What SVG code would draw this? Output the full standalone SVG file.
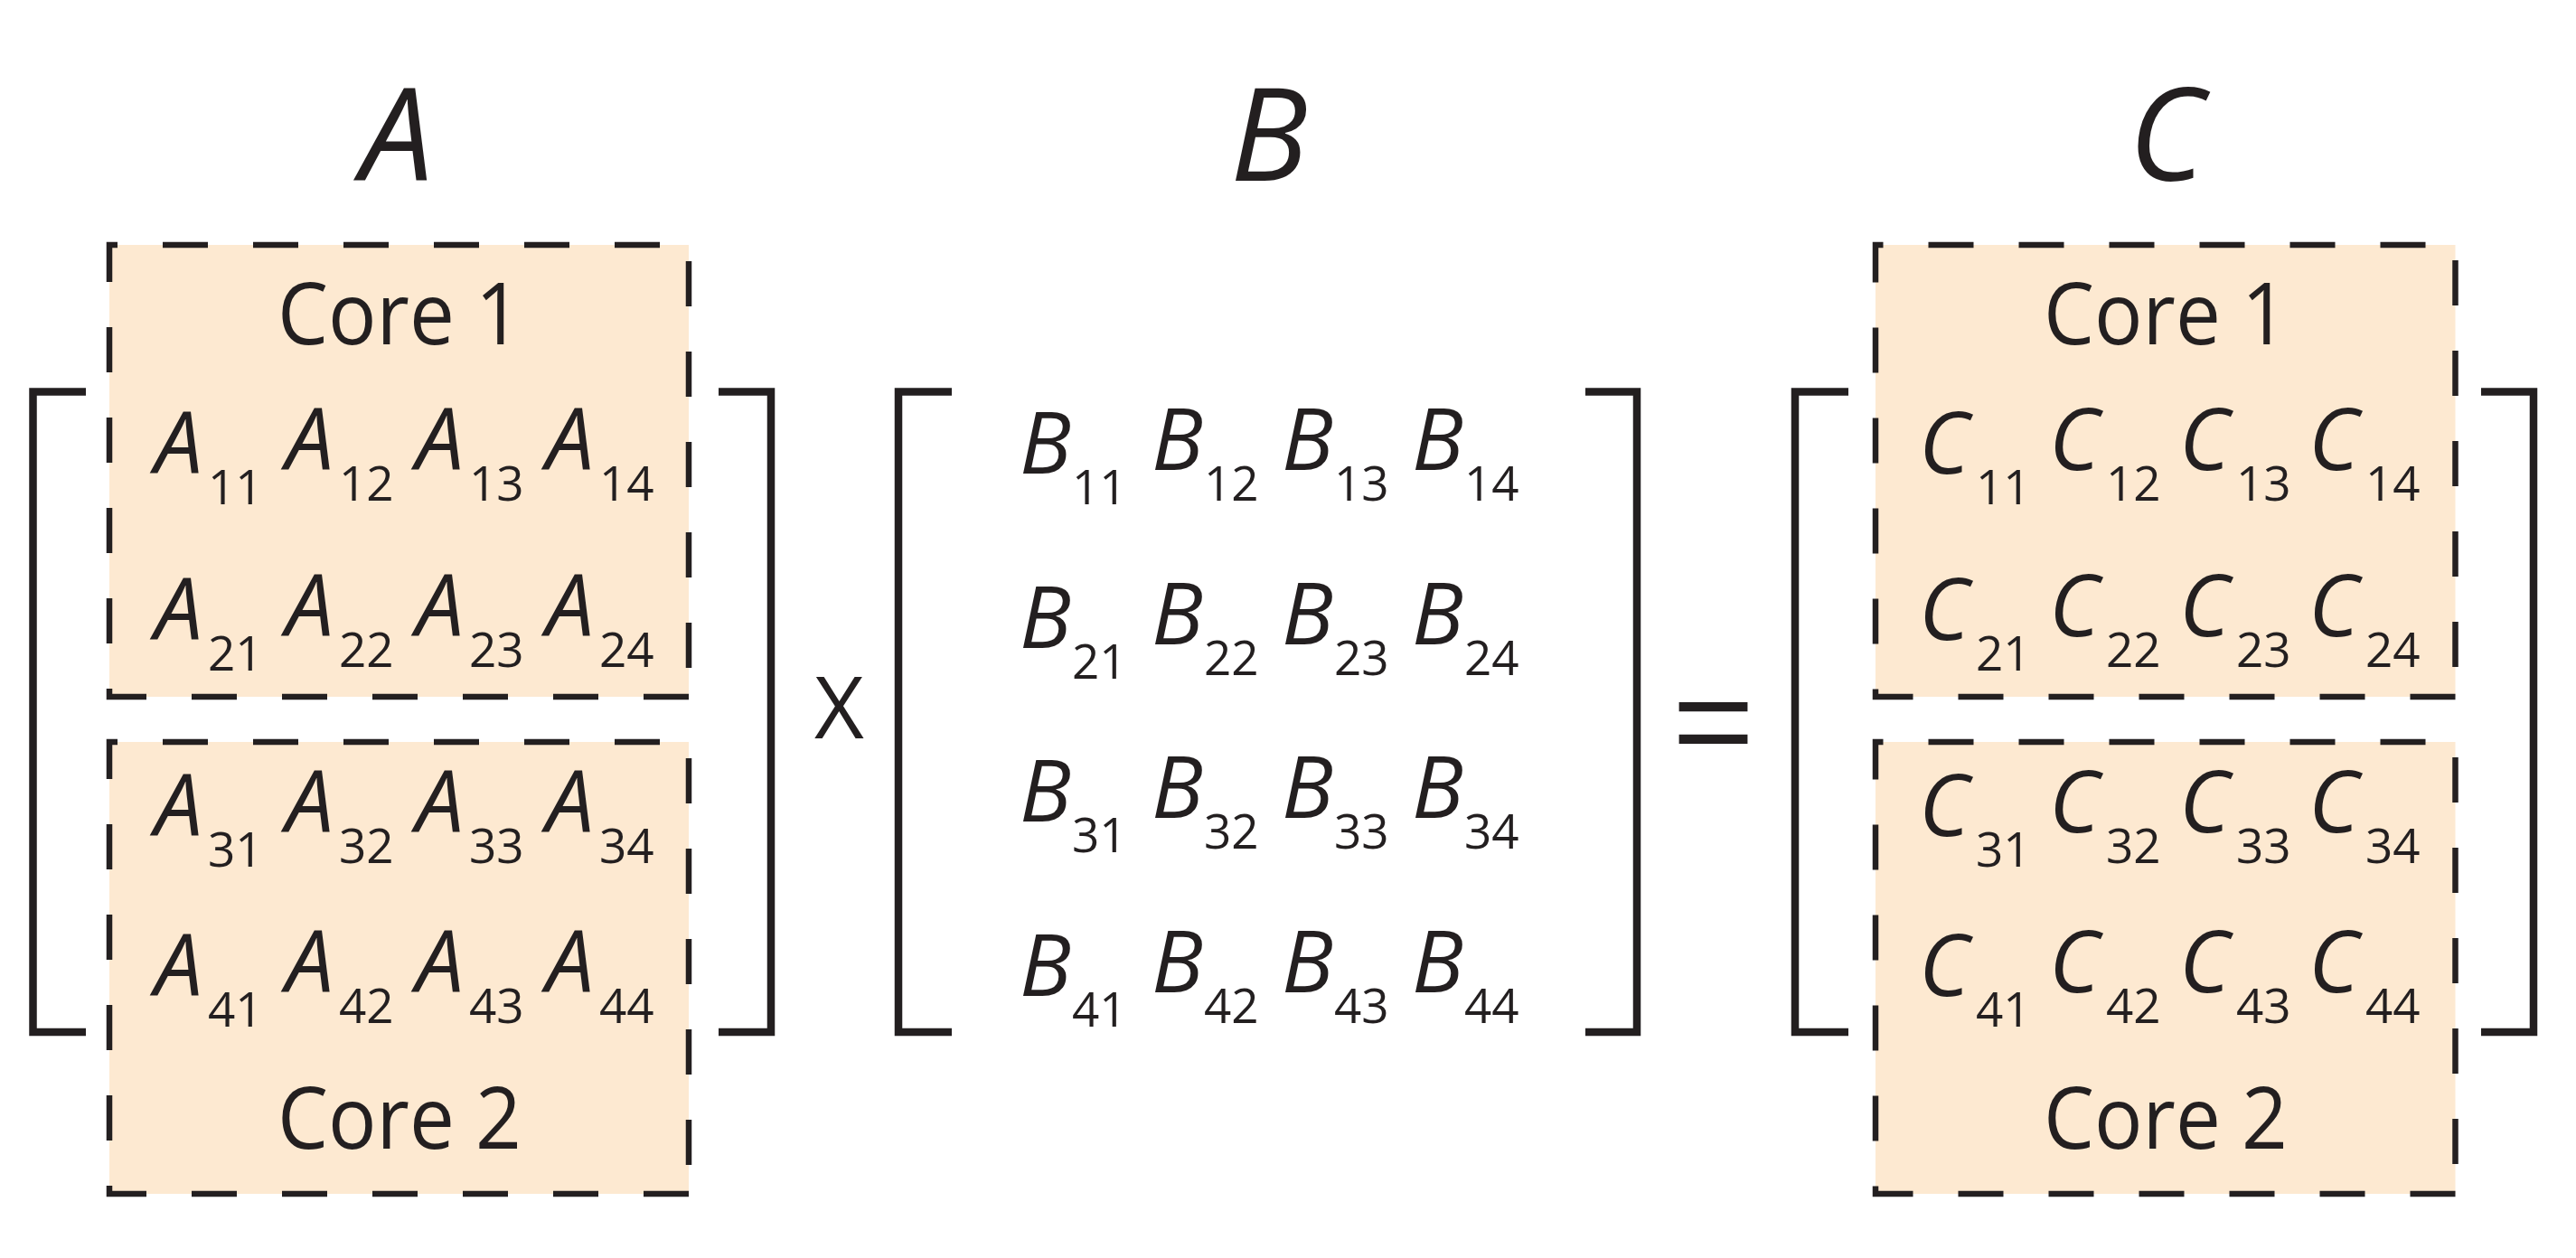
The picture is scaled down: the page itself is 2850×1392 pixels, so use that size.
<svg xmlns="http://www.w3.org/2000/svg" width="2850" height="1392" viewBox="0 0 2850 1392">
<style>
  text { font-family: "Open Sans", "Noto Sans", "Liberation Sans", sans-serif; fill: #231f20; }
  .title { font-size: 143px; font-style: italic; text-anchor: middle; }
  .el { font-size: 95px; font-style: italic; }
  .sub { font-size: 53px; font-style: normal; }
  .core { font-size: 95px; }
  .op { font-size: 95px; text-anchor: middle; }
  .eq { font-family: "Liberation Sans", Arial, sans-serif; font-size: 130px; text-anchor: middle; }
  .box { fill: #fde9d1; stroke: #231f20; stroke-width: 6.5; stroke-dasharray: 50 50; }
  .bracket { fill: none; stroke: #231f20; stroke-width: 8.5; stroke-linejoin: miter; stroke-linecap: butt; }
</style>
<rect width="2850" height="1392" fill="#ffffff"/>

<g id="titles">
  <text id="title-A" class="title" x="439" y="200">A</text>
  <text id="title-B" class="title" x="1404" y="200">B</text>
  <text id="title-C" class="title" x="2397" y="200">C</text>
</g>

<g id="matrix-A">
  <g id="A-core1">
    <path class="box" d="M762,771 H121 V271 H762 Z"/>
    <text class="core" x="307" y="381" textLength="270" lengthAdjust="spacingAndGlyphs">Core 1</text>
    <text class="el" x="171" y="524">A<tspan class="sub" x="230" y="558">11</tspan></text>
    <text class="el" x="316" y="520">A<tspan class="sub" x="375" y="554">12</tspan></text>
    <text class="el" x="460" y="520">A<tspan class="sub" x="519" y="554">13</tspan></text>
    <text class="el" x="604" y="520">A<tspan class="sub" x="663" y="554">14</tspan></text>
    <text class="el" x="171" y="708">A<tspan class="sub" x="230" y="742">21</tspan></text>
    <text class="el" x="316" y="704">A<tspan class="sub" x="375" y="738">22</tspan></text>
    <text class="el" x="460" y="704">A<tspan class="sub" x="519" y="738">23</tspan></text>
    <text class="el" x="604" y="704">A<tspan class="sub" x="663" y="738">24</tspan></text>
  </g>
  <g id="A-core2">
    <path class="box" d="M762,1321 H121 V821 H762 Z"/>
    <text class="el" x="171" y="925">A<tspan class="sub" x="230" y="959">31</tspan></text>
    <text class="el" x="316" y="921">A<tspan class="sub" x="375" y="955">32</tspan></text>
    <text class="el" x="460" y="921">A<tspan class="sub" x="519" y="955">33</tspan></text>
    <text class="el" x="604" y="921">A<tspan class="sub" x="663" y="955">34</tspan></text>
    <text class="el" x="171" y="1102">A<tspan class="sub" x="230" y="1136">41</tspan></text>
    <text class="el" x="316" y="1098">A<tspan class="sub" x="375" y="1132">42</tspan></text>
    <text class="el" x="460" y="1098">A<tspan class="sub" x="519" y="1132">43</tspan></text>
    <text class="el" x="604" y="1098">A<tspan class="sub" x="663" y="1132">44</tspan></text>
    <text class="core" x="307" y="1271" textLength="270" lengthAdjust="spacingAndGlyphs">Core 2</text>
  </g>
  <path class="bracket" d="M95,433.5 H36.5 V1142 H95"/>
  <path class="bracket" d="M795,433.5 H853 V1142 H795"/>
</g>

<g id="op-times">
  <text class="op" x="928.5" y="817">X</text>
</g>

<g id="matrix-B">
  <path class="bracket" d="M1053,433.5 H994 V1142 H1053"/>
  <path class="bracket" d="M1754,433.5 H1811 V1142 H1754"/>
  <text class="el" x="1128" y="524">B<tspan class="sub" x="1186" y="558">11</tspan></text>
  <text class="el" x="1274" y="520">B<tspan class="sub" x="1332" y="554">12</tspan></text>
  <text class="el" x="1418" y="520">B<tspan class="sub" x="1476" y="554">13</tspan></text>
  <text class="el" x="1562" y="520">B<tspan class="sub" x="1620" y="554">14</tspan></text>
  <text class="el" x="1128" y="717">B<tspan class="sub" x="1186" y="751">21</tspan></text>
  <text class="el" x="1274" y="713">B<tspan class="sub" x="1332" y="747">22</tspan></text>
  <text class="el" x="1418" y="713">B<tspan class="sub" x="1476" y="747">23</tspan></text>
  <text class="el" x="1562" y="713">B<tspan class="sub" x="1620" y="747">24</tspan></text>
  <text class="el" x="1128" y="909">B<tspan class="sub" x="1186" y="943">31</tspan></text>
  <text class="el" x="1274" y="905">B<tspan class="sub" x="1332" y="939">32</tspan></text>
  <text class="el" x="1418" y="905">B<tspan class="sub" x="1476" y="939">33</tspan></text>
  <text class="el" x="1562" y="905">B<tspan class="sub" x="1620" y="939">34</tspan></text>
  <text class="el" x="1128" y="1102">B<tspan class="sub" x="1186" y="1136">41</tspan></text>
  <text class="el" x="1274" y="1098">B<tspan class="sub" x="1332" y="1132">42</tspan></text>
  <text class="el" x="1418" y="1098">B<tspan class="sub" x="1476" y="1132">43</tspan></text>
  <text class="el" x="1562" y="1098">B<tspan class="sub" x="1620" y="1132">44</tspan></text>
</g>

<g id="op-equals">
  <text class="eq" transform="translate(1895.5,793) scale(1.2,1.1)" x="0" y="49">=</text>
</g>

<g id="matrix-C">
  <g id="C-core1">
    <path class="box" d="M2716.5,771 H2075 V271 H2716.5 Z"/>
    <text class="core" x="2261" y="381" textLength="270" lengthAdjust="spacingAndGlyphs">Core 1</text>
    <text class="el" x="2123" y="524">C<tspan class="sub" x="2186" y="558">11</tspan></text>
    <text class="el" x="2267" y="520">C<tspan class="sub" x="2330" y="554">12</tspan></text>
    <text class="el" x="2411" y="520">C<tspan class="sub" x="2474" y="554">13</tspan></text>
    <text class="el" x="2554" y="520">C<tspan class="sub" x="2617" y="554">14</tspan></text>
    <text class="el" x="2123" y="708">C<tspan class="sub" x="2186" y="742">21</tspan></text>
    <text class="el" x="2267" y="704">C<tspan class="sub" x="2330" y="738">22</tspan></text>
    <text class="el" x="2411" y="704">C<tspan class="sub" x="2474" y="738">23</tspan></text>
    <text class="el" x="2554" y="704">C<tspan class="sub" x="2617" y="738">24</tspan></text>
  </g>
  <g id="C-core2">
    <path class="box" d="M2716.5,1321 H2075 V821 H2716.5 Z"/>
    <text class="el" x="2123" y="925">C<tspan class="sub" x="2186" y="959">31</tspan></text>
    <text class="el" x="2267" y="921">C<tspan class="sub" x="2330" y="955">32</tspan></text>
    <text class="el" x="2411" y="921">C<tspan class="sub" x="2474" y="955">33</tspan></text>
    <text class="el" x="2554" y="921">C<tspan class="sub" x="2617" y="955">34</tspan></text>
    <text class="el" x="2123" y="1102">C<tspan class="sub" x="2186" y="1136">41</tspan></text>
    <text class="el" x="2267" y="1098">C<tspan class="sub" x="2330" y="1132">42</tspan></text>
    <text class="el" x="2411" y="1098">C<tspan class="sub" x="2474" y="1132">43</tspan></text>
    <text class="el" x="2554" y="1098">C<tspan class="sub" x="2617" y="1132">44</tspan></text>
    <text class="core" x="2261" y="1271" textLength="270" lengthAdjust="spacingAndGlyphs">Core 2</text>
  </g>
  <path class="bracket" d="M2045,433.5 H1986 V1142 H2045"/>
  <path class="bracket" d="M2745,433.5 H2803 V1142 H2745"/>
</g>

<g id="connectors"></g>
</svg>
